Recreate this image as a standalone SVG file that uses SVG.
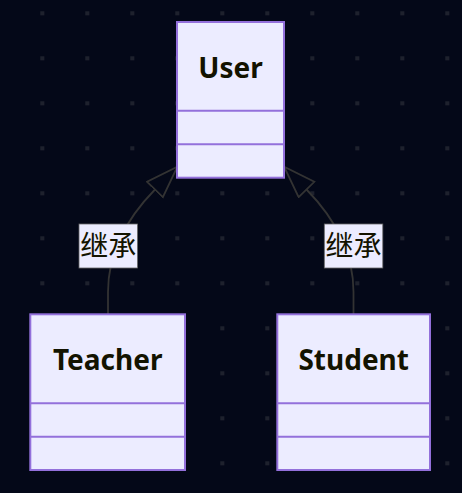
<svg xmlns="http://www.w3.org/2000/svg" width="462" height="493" viewBox="0 0 462 493">
<defs>
<pattern id="dots" x="0" y="0" width="45" height="45" patternUnits="userSpaceOnUse">
<rect x="40.3" y="11.3" width="4" height="4" fill="#1e212d"/>
</pattern>
<marker id="ext" markerUnits="userSpaceOnUse" markerWidth="40" markerHeight="30" refX="1" refY="12" orient="auto" viewBox="0 0 40 30">
<path d="M1,1 L1,23 L33,12 Z" fill="none" stroke="#333333" stroke-width="1.8"/>
</marker>
<style>
.box{fill:#ECECFF;stroke:#9370DB;stroke-width:2}
.div{stroke:#9370DB;stroke-width:2}
.title{font-family:"Noto Sans","DejaVu Sans",sans-serif;font-weight:bold;font-size:28px;fill:#131300;text-anchor:middle}
.edge{fill:none;stroke:#333333;stroke-width:1.8}
.lbg{fill:#ECECFF;stroke:#666;stroke-width:0.8}
.lbl{font-family:"Noto Sans CJK SC","Noto Sans",sans-serif;font-size:28px;fill:#131300;text-anchor:middle}
</style>
</defs>
<rect width="462" height="493" fill="#040818"/>
<rect width="462" height="493" fill="url(#dots)"/>
<g id="connectors">
<path class="edge" d="M108,314 L108,292 C108,248 130,215 155,189.5" marker-end="url(#ext)"/>
<path class="edge" d="M353.5,314 L353.5,292 C353.5,248 331.5,215 306.5,189.5" marker-end="url(#ext)"/>
<g id="label-left">
<rect class="lbg" x="79" y="224" width="58.5" height="44"/>
<text class="lbl" x="108.2" y="256">继承</text>
</g>
<g id="label-right">
<rect class="lbg" x="324.3" y="224" width="58.5" height="44"/>
<text class="lbl" x="353.5" y="256">继承</text>
</g>
</g>
<g id="User">
<rect class="box" x="177" y="22" width="107" height="155.7"/>
<line class="div" x1="177" y1="110.7" x2="284" y2="110.7"/>
<line class="div" x1="177" y1="144.3" x2="284" y2="144.3"/>
<text class="title" x="230.5" y="78">User</text>
</g>
<g id="Teacher">
<rect class="box" x="30.3" y="314.3" width="154.7" height="155.7"/>
<line class="div" x1="30.3" y1="403.3" x2="185" y2="403.3"/>
<line class="div" x1="30.3" y1="436.7" x2="185" y2="436.7"/>
<text class="title" x="107.7" y="370">Teacher</text>
</g>
<g id="Student">
<rect class="box" x="277.3" y="314.3" width="152.7" height="155.7"/>
<line class="div" x1="277.3" y1="403.3" x2="430" y2="403.3"/>
<line class="div" x1="277.3" y1="436.7" x2="430" y2="436.7"/>
<text class="title" x="353.7" y="370">Student</text>
</g>
</svg>
